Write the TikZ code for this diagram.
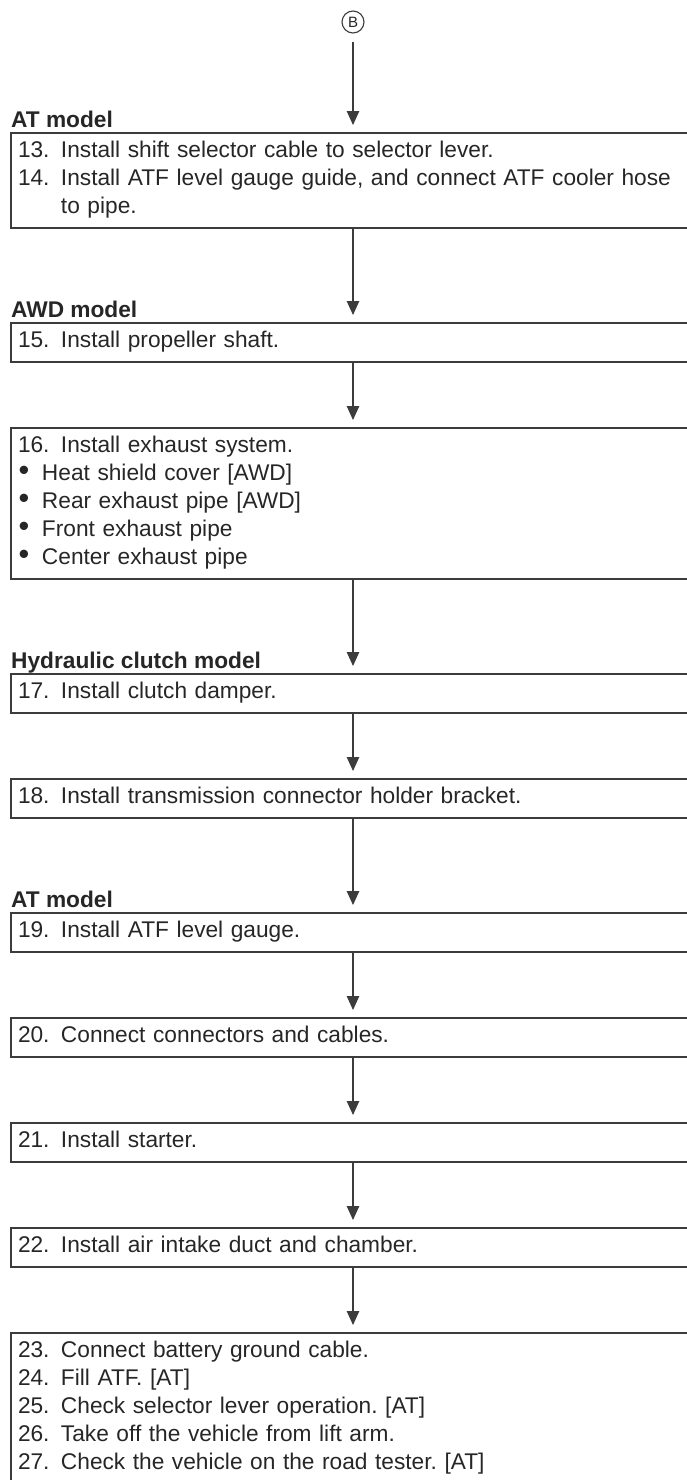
\documentclass[tikz,border=0pt]{standalone}
\usepackage{fontspec}
\setmainfont{Liberation Sans}
\usepackage{graphicx}
\usepackage{tikz}
\usetikzlibrary{positioning, arrows.meta}
\definecolor{inkgray}{HTML}{262626}
\definecolor{linegray}{HTML}{3C3C3C}
\setlength{\parindent}{0pt}
\frenchspacing
\newcommand{\topln}{\rule{0pt}{24pt}}
\newcommand{\botln}{\rule[-15pt]{0pt}{15pt}}
\newcommand{\stepno}[1]{\makebox[43pt][l]{#1}}
\newcommand{\bul}{\makebox[12pt]{\scalebox{1.35}{\textbullet}}\hspace{12pt}}
\tikzset{
  stepbox/.style={draw=linegray, line width=1.1pt, outer sep=0pt,
    inner xsep=7pt, inner ysep=0pt, text width=680pt, align=left,
    anchor=north west, text=inkgray, font=\fontsize{22.7}{28}\selectfont},
  modellabel/.style={anchor=base west, inner sep=0pt, text=inkgray,
    font=\fontsize{22.7}{28}\selectfont\bfseries},
  flow/.style={draw=linegray, line width=1.1pt,
    -{Triangle[length=14pt, width=12.5pt]}, shorten >=8pt},
}

\begin{document}
\begin{tikzpicture}[x=1pt, y=1pt]
  \useasboundingbox (0,0) rectangle (687,-1480);
  \clip (0,0) rectangle (687,-1480);

  \node[draw=linegray, circle, line width=1.1pt, minimum size=22pt, inner sep=0pt,
        text=inkgray, font=\fontsize{15}{15}\selectfont] (bmark) at (353,-22) {B};

  % steps
  \node[stepbox] (s13) at (11,-133) {\topln\stepno{13.}Install shift selector cable to selector lever.\\
    \stepno{14.}Install ATF level gauge guide, and connect ATF cooler hose\\
    \stepno{}to pipe.\botln};
  \node[stepbox, below right=95pt and 0pt of s13.south west] (s15) {\topln\stepno{15.}Install propeller shaft.\botln};
  \node[stepbox, below right=66pt and 0pt of s15.south west] (s16) {\topln\stepno{16.}Install exhaust system.\\
    \bul Heat shield cover [AWD]\\
    \bul Rear exhaust pipe [AWD]\\
    \bul Front exhaust pipe\\
    \bul Center exhaust pipe\botln};
  \node[stepbox, below right=95pt and 0pt of s16.south west] (s17) {\topln\stepno{17.}Install clutch damper.\botln};
  \node[stepbox, below right=66pt and 0pt of s17.south west] (s18) {\topln\stepno{18.}Install transmission connector holder bracket.\botln};
  \node[stepbox, below right=95pt and 0pt of s18.south west] (s19) {\topln\stepno{19.}Install ATF level gauge.\botln};
  \node[stepbox, below right=66pt and 0pt of s19.south west] (s20) {\topln\stepno{20.}Connect connectors and cables.\botln};
  \node[stepbox, below right=66pt and 0pt of s20.south west] (s21) {\topln\stepno{21.}Install starter.\botln};
  \node[stepbox, below right=66pt and 0pt of s21.south west] (s22) {\topln\stepno{22.}Install air intake duct and chamber.\botln};
  \node[stepbox, below right=66pt and 0pt of s22.south west] (s23) {\topln\stepno{23.}Connect battery ground cable.\\
    \stepno{24.}Fill ATF. [AT]\\
    \stepno{25.}Check selector lever operation. [AT]\\
    \stepno{26.}Take off the vehicle from lift arm.\\
    \stepno{27.}Check the vehicle on the road tester. [AT]\botln};

  % model labels
  \node[modellabel] (at1) at ([yshift=6pt]s13.north west) {AT model};
  \node[modellabel] (awd) at ([yshift=6pt]s15.north west) {AWD model};
  \node[modellabel] (hyd) at ([yshift=6pt]s17.north west) {Hydraulic clutch model};
  \node[modellabel] (at2) at ([yshift=6pt]s19.north west) {AT model};

  % flow
  \draw[flow, shorten <=8pt] (bmark.south) -- (s13.north -| bmark);
  \draw[flow] (s13.south -| bmark) -- (s15.north -| bmark);
  \draw[flow] (s15.south -| bmark) -- (s16.north -| bmark);
  \draw[flow] (s16.south -| bmark) -- (s17.north -| bmark);
  \draw[flow] (s17.south -| bmark) -- (s18.north -| bmark);
  \draw[flow] (s18.south -| bmark) -- (s19.north -| bmark);
  \draw[flow] (s19.south -| bmark) -- (s20.north -| bmark);
  \draw[flow] (s20.south -| bmark) -- (s21.north -| bmark);
  \draw[flow] (s21.south -| bmark) -- (s22.north -| bmark);
  \draw[flow] (s22.south -| bmark) -- (s23.north -| bmark);
\end{tikzpicture}
\end{document}
